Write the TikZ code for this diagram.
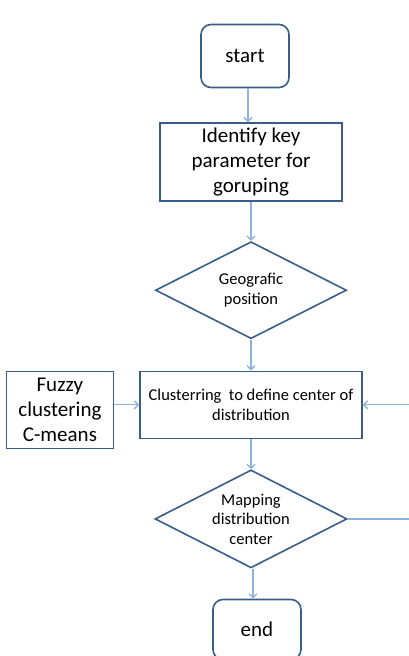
\documentclass[tikz,border=0pt]{standalone}
\usepackage{fontspec}
\setmainfont{Carlito}
\usetikzlibrary{shapes.geometric,positioning,arrows.meta}

\definecolor{boxblue}{RGB}{56,93,138}
\definecolor{flowblue}{RGB}{143,177,219}

\tikzset{
  process/.style={draw=boxblue, line width=1.6pt, inner sep=0pt, align=center},
  terminal/.style={process, rounded corners=10pt},
  decision/.style={process, diamond, aspect=2},
  flow/.style={draw=flowblue, line width=1.3pt, -{Straight Barb[length=4pt,width=8pt]}},
  bigtext/.style={font=\fontsize{21}{25}\selectfont},
  smalltext/.style={font=\fontsize{16.5}{19.5}\selectfont}
}

\begin{document}
\begin{tikzpicture}[x=1pt,y=-1pt]
  \useasboundingbox (0,0) rectangle (409,656);

  %Define nodes
  \node[terminal, bigtext, minimum width=88pt, minimum height=63pt] (start) at (245,56) {start};
  \node[process, bigtext, minimum width=182pt, minimum height=78pt, below=34pt of start, xshift=6pt] (key) {Identify key\\parameter for\\goruping};
  \node[decision, smalltext, minimum width=191pt, minimum height=97pt, below=39pt of key] (geo) {Geografic\\position};
  \node[process, smalltext, minimum width=222pt, minimum height=67pt, below=31pt of geo] (clus) {Clusterring\ \ to define center of\\distribution};
  \node[process, bigtext, minimum width=107pt, minimum height=77pt, left=25pt of clus, yshift=-5pt] (fuzzy) {Fuzzy\\clustering\\C-means};
  \node[decision, smalltext, minimum width=192pt, minimum height=98pt, below=30pt of clus] (map) {Mapping\\distribution\\center};
  \node[terminal, bigtext, minimum width=88pt, minimum height=60pt, below=30pt of map, xshift=6pt] (end) {end};

  % Connect the nodes
  \draw[flow] ([xshift=3pt]start.south) -- ([xshift=-3pt]key.north);
  \draw[flow] (key) -- (geo);
  \draw[flow] (geo) -- (clus);
  \draw[flow] (fuzzy.east |- clus.west) -- (clus.west);
  \draw[flow] (clus) -- (map);
  \draw[flow] ([xshift=2pt]map.south) -- ([xshift=-4pt]end.north);
  \draw[flow] (map.east) -- ++(80,0) |- (clus.east);

\end{tikzpicture}
\end{document}
